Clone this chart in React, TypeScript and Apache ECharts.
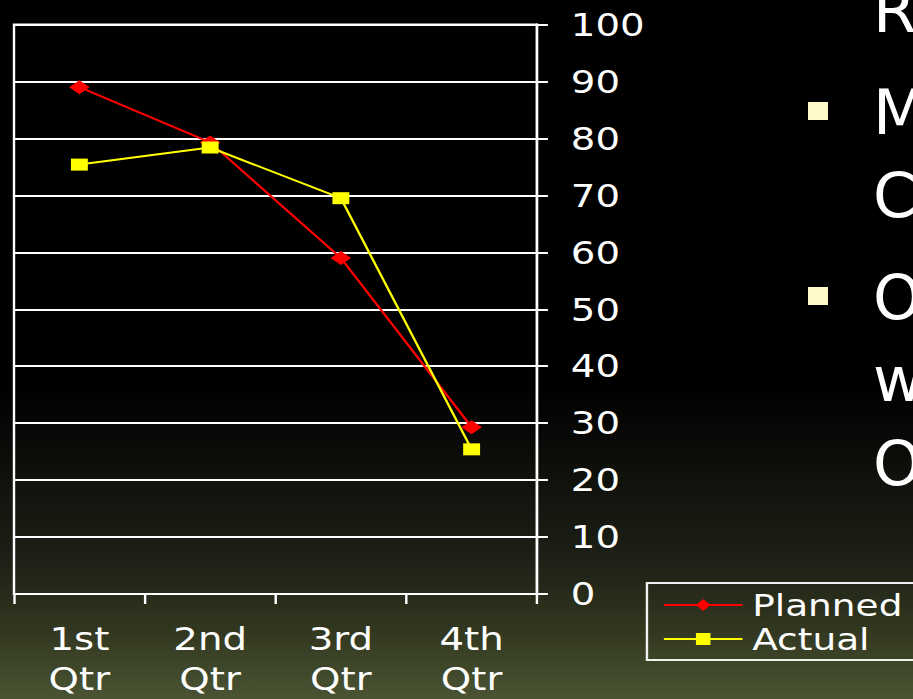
import React, { useEffect, useRef } from 'react';
import * as echarts from 'echarts';

// ---- data ----
const categories = ['1st\nQtr', '2nd\nQtr', '3rd\nQtr', '4th\nQtr'];
const plannedValues = [89, 79.3, 59, 29.3];
const actualValues = [75.4, 78.4, 69.5, 25.4];
const yTicks = { min: 0, max: 100, interval: 10 };
const slideLetters = ['R', 'M', 'C', 'O', 'w', 'O'];
const slideBullets = [false, true, false, true, false, false];

// horizontal stretch of the original chart picture
const W = 755;
const S = 913 / W;
const FONT = '"DejaVu Sans", Verdana, sans-serif';

export default function App() {
  const ref = useRef<HTMLDivElement>(null);
  useEffect(() => {
    document.body.style.margin = '0';
    document.body.style.background = '#000';
    document.body.style.overflow = 'hidden';
    const chart = echarts.init(ref.current as HTMLDivElement, null, { renderer: 'svg' });

    const lineYs = [11, 113, 196, 298, 380, 464];
    const bulletYs = [0, 102, 0, 287, 0, 0];
    const graphics: any[] = [];
    slideLetters.forEach((t, i) => {
      graphics.push({
        type: 'text',
        x: 873 / S,
        y: lineYs[i],
        scaleX: 1 / S,
        silent: true,
        style: {
          text: t,
          fill: '#ffffff',
          fontSize: 62,
          fontFamily: FONT,
          verticalAlign: 'middle',
          align: 'left',
        },
      });
      if (slideBullets[i]) {
        graphics.push({
          type: 'rect',
          silent: true,
          shape: { x: 808 / S, y: bulletYs[i], width: 20 / S, height: 18 },
          style: { fill: '#fff8c8' },
        });
      }
    });

    chart.setOption({
      animation: false,
      backgroundColor: {
        type: 'linear',
        x: 0, y: 0, x2: 0, y2: 1,
        colorStops: [
          { offset: 0, color: '#000000' },
          { offset: 0.55, color: '#000000' },
          { offset: 0.8, color: '#1d2016' },
          { offset: 0.9, color: '#31371f' },
          { offset: 1, color: '#4a5433' },
        ],
      },
      textStyle: { fontFamily: FONT },
      grid: {
        left: 14 / S,
        right: W - 537 / S,
        top: 24.5,
        bottom: 102.5,
        show: true,
        borderColor: '#ffffff',
        borderWidth: 2,
        backgroundColor: 'transparent',
      },
      xAxis: {
        type: 'category',
        data: categories,
        boundaryGap: true,
        axisLine: { show: true, lineStyle: { color: '#ffffff', width: 2 } },
        axisTick: { show: true, length: 10, lineStyle: { color: '#ffffff', width: 2 } },
        axisLabel: {
          interval: 0,
          color: '#ffffff',
          fontSize: 32,
          lineHeight: 40,
          margin: 25,
          fontFamily: FONT,
        },
        splitLine: { show: false },
      },
      yAxis: {
        type: 'value',
        position: 'right',
        min: yTicks.min,
        max: yTicks.max,
        interval: yTicks.interval,
        axisLine: { show: true, lineStyle: { color: '#ffffff', width: 2 } },
        axisTick: { show: true, inside: false, length: 9, lineStyle: { color: '#ffffff', width: 2 } },
        axisLabel: { color: '#ffffff', fontSize: 32, margin: 28, fontFamily: FONT },
        splitLine: { show: true, lineStyle: { color: '#ffffff', width: 2 } },
      },
      legend: {
        orient: 'vertical',
        left: 535,
        top: 583,
        padding: [5, 12, 4, 13],
        itemGap: 0,
        itemWidth: 65,
        itemHeight: 15,
        borderColor: '#f0f0f0',
        borderWidth: 2,
        borderRadius: 0,
        textStyle: { color: '#ffffff', fontSize: 31, lineHeight: 34, fontFamily: FONT, padding: [0, 0, 0, 3] },
        data: ['Planned', 'Actual'],
      },
      series: [
        {
          name: 'Planned',
          type: 'line',
          data: plannedValues,
          symbol: 'diamond',
          symbolSize: [17, 14],
          lineStyle: { color: '#ff0000', width: 2 },
          itemStyle: { color: '#ff0000' },
        },
        {
          name: 'Actual',
          type: 'line',
          data: actualValues,
          symbol: 'rect',
          symbolSize: [14, 12],
          lineStyle: { color: '#ffff00', width: 2 },
          itemStyle: { color: '#ffff00' },
        },
      ],
      graphic: graphics,
    });
    return () => chart.dispose();
  }, []);
  return (
    <div
      ref={ref}
      style={{
        position: 'fixed',
        left: 0,
        top: 0,
        width: W,
        height: 699,
        transform: `scaleX(${S})`,
        transformOrigin: '0 0',
      }}
    />
  );
}
